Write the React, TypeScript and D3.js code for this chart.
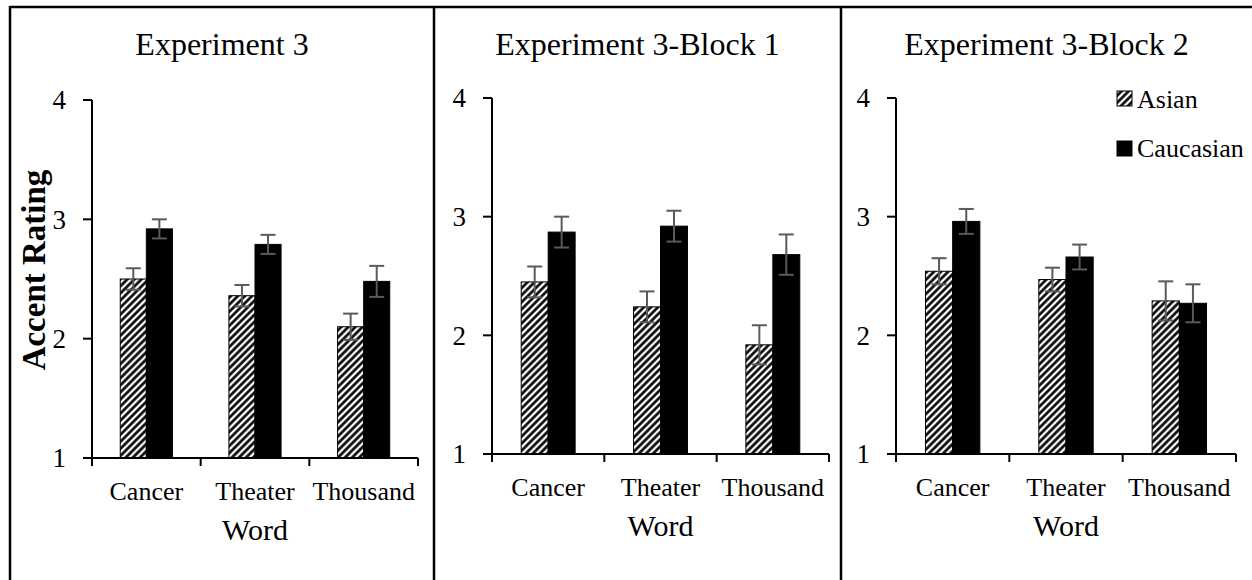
import * as d3 from "d3";

// Mean accent ratings (1-4 scale), with error bars
const categories = ["Cancer", "Theater", "Thousand"];
const yTicks = [1, 2, 3, 4];
const panelTitles = ["Experiment 3", "Experiment 3-Block 1", "Experiment 3-Block 2"];
const seriesNames = ["Asian", "Caucasian"];

const exp3Asian = [2.5, 2.36, 2.1];
const exp3AsianErr = [0.09, 0.09, 0.11];
const exp3Caucasian = [2.92, 2.79, 2.48];
const exp3CaucasianErr = [0.08, 0.08, 0.13];

const block1Asian = [2.45, 2.24, 1.92];
const block1AsianErr = [0.13, 0.13, 0.165];
const block1Caucasian = [2.87, 2.92, 2.68];
const block1CaucasianErr = [0.13, 0.13, 0.17];

const block2Asian = [2.54, 2.47, 2.29];
const block2AsianErr = [0.11, 0.1, 0.165];
const block2Caucasian = [2.96, 2.66, 2.27];
const block2CaucasianErr = [0.105, 0.105, 0.16];

const W = 1252;
const H = 580;
const FONT = "'Liberation Serif', 'Times New Roman', serif";
const ERR_COLOR = "#5a5a5a";

// panel frame + plot area positions
const LAYOUT = [
  { left: 10, right: 434, axisX: 92, axisRight: 418, yTop: 100, yBottom: 458 },
  { left: 434, right: 841, axisX: 492, axisRight: 829, yTop: 98, yBottom: 454 },
  { left: 841, right: W, axisX: 896, axisRight: 1236, yTop: 98, yBottom: 454 },
];

const panelData = [
  { asian: exp3Asian, asianErr: exp3AsianErr, cauc: exp3Caucasian, caucErr: exp3CaucasianErr },
  { asian: block1Asian, asianErr: block1AsianErr, cauc: block1Caucasian, caucErr: block1CaucasianErr },
  { asian: block2Asian, asianErr: block2AsianErr, cauc: block2Caucasian, caucErr: block2CaucasianErr },
];

function ErrorBar({ cx, y, mean, err }: { cx: number; y: d3.ScaleLinear<number, number>; mean: number; err: number }) {
  const hw = 7.5;
  const y1 = y(mean + err);
  const y2 = y(mean - err);
  return (
    <g stroke={ERR_COLOR} strokeWidth={2}>
      <line x1={cx} x2={cx} y1={y1} y2={y2} />
      <line x1={cx - hw} x2={cx + hw} y1={y1} y2={y1} />
      <line x1={cx - hw} x2={cx + hw} y1={y2} y2={y2} />
    </g>
  );
}

function Panel({ idx }: { idx: number }) {
  const L = LAYOUT[idx];
  const d = panelData[idx];
  const y = d3.scaleLinear().domain([1, 4]).range([L.yBottom, L.yTop]);
  const x = d3.scaleBand().domain(categories).range([L.axisX, L.axisRight]);
  const bw = x.bandwidth() * 0.24;
  const boundaries = [L.axisX, ...categories.map((c) => (x(c) ?? 0) + x.bandwidth())];

  return (
    <g>
      <text
        x={(L.left + L.right) / 2}
        y={55}
        textAnchor="middle"
        fontFamily={FONT}
        fontSize={32}
        fill="#000"
      >
        {panelTitles[idx]}
      </text>

      {/* bars */}
      {categories.map((c, i) => {
        const center = (x(c) ?? 0) + x.bandwidth() / 2;
        return (
          <g key={c}>
            <rect
              x={center - bw}
              y={y(d.asian[i])}
              width={bw}
              height={y(1) - y(d.asian[i])}
              fill="url(#hatch)"
              stroke="#000"
              strokeWidth={1}
            />
            <rect
              x={center}
              y={y(d.cauc[i])}
              width={bw}
              height={y(1) - y(d.cauc[i])}
              fill="#000"
              stroke="#000"
              strokeWidth={1}
            />
            <ErrorBar cx={center - bw / 2} y={y} mean={d.asian[i]} err={d.asianErr[i]} />
            <ErrorBar cx={center + bw / 2} y={y} mean={d.cauc[i]} err={d.caucErr[i]} />
          </g>
        );
      })}

      {/* y axis */}
      <g stroke="#000" strokeWidth={2}>
        <line x1={L.axisX} x2={L.axisX} y1={y(4)} y2={y(1) + 8} />
        {yTicks.map((t) => (
          <line key={t} x1={L.axisX - 9} x2={L.axisX} y1={y(t)} y2={y(t)} />
        ))}
        <line x1={L.axisX - 9} x2={L.axisRight} y1={y(1)} y2={y(1)} />
        {boundaries.map((bx, i) => (
          <line key={i} x1={bx} x2={bx} y1={y(1)} y2={y(1) + 8} />
        ))}
      </g>
      {yTicks.map((t) => (
        <text
          key={t}
          x={L.axisX - 26}
          y={y(t)}
          dy="0.34em"
          textAnchor="end"
          fontFamily={FONT}
          fontSize={27}
          fill="#000"
        >
          {t}
        </text>
      ))}

      {/* category labels */}
      {categories.map((c) => (
        <text
          key={c}
          x={(x(c) ?? 0) + x.bandwidth() / 2}
          y={y(1) + 42}
          textAnchor="middle"
          fontFamily={FONT}
          fontSize={26}
          fill="#000"
        >
          {c}
        </text>
      ))}
      <text
        x={(L.axisX + L.axisRight) / 2}
        y={y(1) + 82}
        textAnchor="middle"
        fontFamily={FONT}
        fontSize={30}
        fill="#000"
      >
        Word
      </text>
    </g>
  );
}

export default function App() {
  return (
    <div style={{ position: "fixed", left: 0, top: 0, background: "#fff" }}>
      <svg width={W} height={H} style={{ display: "block" }}>
        <defs>
          <pattern
            id="hatch"
            patternUnits="userSpaceOnUse"
            width={5}
            height={5}
            patternTransform="rotate(45)"
          >
            <rect width={5} height={5} fill="#fff" />
            <line x1={2.5} x2={2.5} y1={0} y2={5} stroke="#000" strokeWidth={2.6} />
          </pattern>
        </defs>
        <rect width={W} height={H} fill="#fff" />

        {/* frame lines */}
        <g stroke="#000" strokeWidth={2.5}>
          <line x1={10} x2={W} y1={7} y2={7} />
          {LAYOUT.map((L, i) => (
            <line key={i} x1={L.left} x2={L.left} y1={6} y2={H} />
          ))}
        </g>

        {LAYOUT.map((_, i) => (
          <Panel key={i} idx={i} />
        ))}

        <text
          transform="translate(45,270) rotate(-90)"
          textAnchor="middle"
          fontFamily={FONT}
          fontSize={33}
          fontWeight="bold"
          fill="#000"
        >
          Accent Rating
        </text>

        {/* legend */}
        {seriesNames.map((s, i) => (
          <g key={s}>
            <rect
              x={1117}
              y={91 + i * 50}
              width={15}
              height={15}
              fill={i === 0 ? "url(#hatch)" : "#000"}
              stroke="#000"
              strokeWidth={1}
            />
            <text x={1137} y={108 + i * 49} fontFamily={FONT} fontSize={26} fill="#000">
              {s}
            </text>
          </g>
        ))}
      </svg>
    </div>
  );
}
